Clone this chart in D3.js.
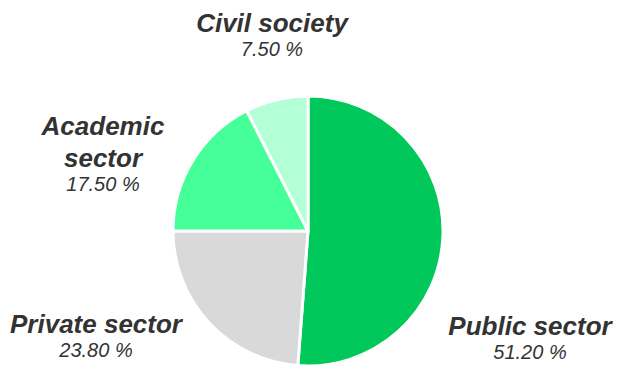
<!DOCTYPE html>
<html><head><meta charset="utf-8">
<script src="https://cdn.jsdelivr.net/npm/d3@7"></script>
<style>body{margin:0;background:#fff}</style>
</head><body>
<svg id="c" width="618" height="368"></svg>
<script>
const categories = ["Public sector", "Private sector", "Academic sector", "Civil society"];
const values = [51.2, 23.8, 17.5, 7.5];
const colors = ["#00C85A", "#D9D9D9", "#45FF99", "#B3FFD6"];
// label layout: lines of the name, anchor position (layout only)
const labelLines = [["Public sector"], ["Private sector"], ["Academic", "sector"], ["Civil society"]];
const labelPos = [[530, 335], [96, 333], [103, 135], [272, 32]];

const svg = d3.select("#c");
const cx = 308, cy = 231, r = 135;
const pie = d3.pie().sort(null).value(d => d)(values);
const arc = d3.arc().innerRadius(0).outerRadius(r);
const g = svg.append("g").attr("transform", `translate(${cx},${cy})`);
g.selectAll("path").data(pie).join("path")
  .attr("d", arc)
  .attr("fill", (d, i) => colors[i])
  .attr("stroke", "#fff").attr("stroke-width", 3).attr("stroke-linejoin", "round");

const lab = svg.append("g").attr("font-family", "'Liberation Sans', Arial, sans-serif");
categories.forEach((c, i) => {
  const [x, y] = labelPos[i];
  const lines = labelLines[i];
  const t = lab.append("text").attr("text-anchor", "middle").attr("fill", "#333")
    .attr("font-weight", "bold").attr("font-style", "italic").attr("font-size", 26);
  lines.forEach((l, j) => {
    t.append("tspan").attr("x", x).attr("y", y + j * 32).text(l);
  });
  lab.append("text").attr("text-anchor", "middle").attr("fill", "#333")
    .attr("font-style", "italic").attr("font-size", 20)
    .attr("x", x).attr("y", y + (lines.length - 1) * 32 + 24)
    .text(values[i].toFixed(2) + " %");
});
</script>
</body></html>
